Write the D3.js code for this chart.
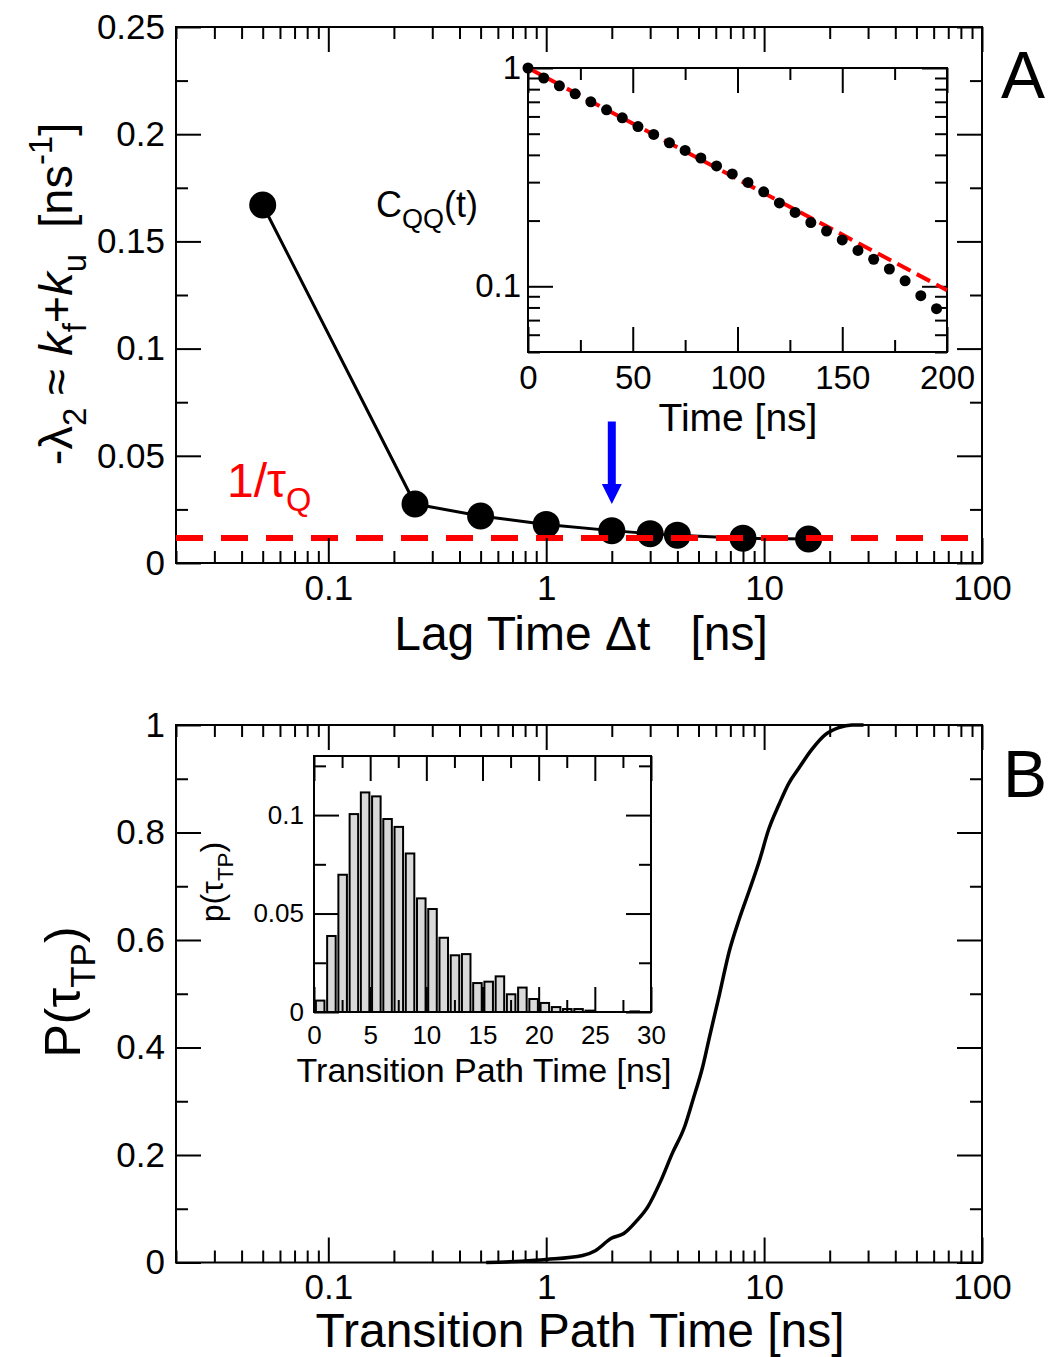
<!DOCTYPE html>
<html>
<head>
<meta charset="utf-8">
<script src="https://cdn.jsdelivr.net/npm/d3@7"></script>
<style>
  body { margin: 0; background: #fff; }
  svg text { font-family: "Liberation Sans", Arial, sans-serif; fill: #000; }
</style>
</head>
<body>
<svg id="fig" width="1050" height="1357"></svg>
<script>
// ---- Panel A: -lambda_2 vs lag time
const lagTimes = [0.05, 0.25, 0.5, 1, 2, 3, 4, 8, 16];
const rates = [0.167, 0.0275, 0.0219, 0.018, 0.0151, 0.0137, 0.013, 0.0116, 0.0112];
const rateQ = 0.0117;          // 1/tau_Q reference line
const markedLag = 2;           // blue arrow position
const arrowFrom = 0.066, arrowTo = 0.0275;

// ---- Panel A inset: C_QQ(t)
const corrTimes = [0, 7.5, 15, 22.5, 30, 37.5, 45, 52.5, 60, 67.5, 75, 82.5, 90, 97.5,
  105, 112.5, 120, 127.5, 135, 142.5, 150, 157.5, 165, 172.5, 180, 187.5, 195];
const corrValues = [1.0, 0.90, 0.829, 0.762, 0.70, 0.643, 0.591, 0.539, 0.496, 0.454, 0.419,
  0.387, 0.356, 0.327, 0.299, 0.271, 0.241, 0.218, 0.196, 0.179, 0.163, 0.146, 0.133,
  0.120, 0.106, 0.0906, 0.079];
const fitTimes = [0, 200];
const fitValues = [1.0, 0.096];

// ---- Panel B: cumulative distribution of transition path times
const tpTimes = [0.53, 0.77, 1.0, 1.47, 1.68, 1.99, 2.27, 2.58, 2.93, 3.34, 3.79, 4.32, 4.71,
  5.24, 5.61, 6.24, 6.92, 7.69, 8.55, 9.49, 10.5, 11.7, 13.0, 14.4, 16.6, 19.1, 22.0, 25.3, 28.6];
const tpCdf = [0, 0.0025, 0.0056, 0.013, 0.022, 0.045, 0.054, 0.076, 0.104, 0.150, 0.203, 0.253,
  0.302, 0.366, 0.419, 0.499, 0.579, 0.639, 0.692, 0.746, 0.806, 0.852, 0.892, 0.919, 0.955,
  0.982, 0.995, 1.0, 1.0];

// ---- Panel B inset: histogram (1 ns bins)
const binStarts = d3.range(0, 30);
const binProbs = [0.0058, 0.0386, 0.0697, 0.1005, 0.1115, 0.1095, 0.098, 0.094, 0.0805, 0.0577,
  0.0523, 0.0377, 0.0288, 0.0294, 0.0147, 0.0154, 0.0181, 0.009, 0.0124, 0.0066, 0.0046,
  0.0025, 0.0015, 0.0015, 0.0007, 0, 0, 0, 0.0003, 0];

// ---- ticks
const logMajor = [0.1, 1, 10, 100];
const rateTicks = [0, 0.05, 0.1, 0.15, 0.2, 0.25];
const probTicks = [0, 0.2, 0.4, 0.6, 0.8, 1];
const corrTimeTicks = [0, 50, 100, 150, 200];
const corrTicks = [0.1, 1];
const histXTicks = [0, 5, 10, 15, 20, 25, 30];
const histYTicks = [0, 0.05, 0.1];

const svg = d3.select("#fig");
const fmt = d3.format("~g");

function logMinor(lo, hi) {
  const out = [];
  for (let e = Math.floor(Math.log10(lo)); e < Math.ceil(Math.log10(hi)); e++)
    for (let m = 2; m <= 9; m++) {
      const v = m * Math.pow(10, e);
      if (v >= lo * 0.999 && v <= hi * 1.001) out.push(v);
    }
  return out;
}

// frame with inward ticks on all four sides
function frame(g, x, y, o) {
  const [x0, x1] = x.range(), [y0, y1] = y.range();
  g.append("rect").attr("x", x0).attr("y", y1).attr("width", x1 - x0).attr("height", y0 - y1)
    .attr("fill", o.fill || "none").attr("stroke", "#000").attr("stroke-width", 2);
  return function ticks() {
    const L = o.major || 25, l = o.minor || 12;
    const add = (axis, tr) => g.append("g").attr("transform", tr).call(axis)
      .call(s => s.select(".domain").remove())
      .call(s => s.selectAll("line").attr("stroke", "#000").attr("stroke-width", 2))
      .attr("font-size", o.fontSize).attr("font-family", null);
    add(d3.axisBottom(x).tickValues(o.xMajor).tickSize(-L).tickPadding(o.xPad).tickFormat(fmt), `translate(0,${y0})`);
    add(d3.axisBottom(x).tickValues(o.xMinor).tickSize(-l).tickFormat(""), `translate(0,${y0})`);
    add(d3.axisTop(x).tickValues(o.xMajor).tickSize(-L).tickFormat(""), `translate(0,${y1})`);
    add(d3.axisTop(x).tickValues(o.xMinor).tickSize(-l).tickFormat(""), `translate(0,${y1})`);
    add(d3.axisLeft(y).tickValues(o.yMajor).tickSize(-L).tickPadding(o.yPad).tickFormat(fmt), `translate(${x0},0)`);
    add(d3.axisLeft(y).tickValues(o.yMinor).tickSize(-l).tickFormat(""), `translate(${x0},0)`);
    add(d3.axisRight(y).tickValues(o.yMajor).tickSize(-L).tickFormat(""), `translate(${x1},0)`);
    add(d3.axisRight(y).tickValues(o.yMinor).tickSize(-l).tickFormat(""), `translate(${x1},0)`);
  };
}

// text with sub/superscripts and italics
function rich(sel, parts, size) {
  let shift = 0;
  sel.style("white-space", "pre");
  parts.forEach(p => {
    const target = p.sub ? size * 0.3 : p.sup ? -size * 0.42 : 0;
    sel.append("tspan")
      .attr("dy", target - shift)
      .attr("font-size", (p.sub || p.sup) ? size * (p.k || 0.7) : size)
      .attr("font-style", p.it ? "italic" : null)
      .text(p.t);
    shift = target;
  });
  return sel;
}

// ================= Panel A =================
const xA = d3.scaleLog().domain([0.02, 100]).range([176, 982]);
const yA = d3.scaleLinear().domain([0, 0.25]).range([563, 27]);
const gA = svg.append("g");
const ticksA = frame(gA, xA, yA, {
  xMajor: logMajor, xMinor: logMinor(0.02, 100), yMajor: rateTicks,
  yMinor: d3.range(0.025, 0.25, 0.05), fontSize: 35, xPad: 12, yPad: 11
});

const ptsA = lagTimes.map((t, i) => [t, rates[i]]);
gA.append("path").datum(ptsA)
  .attr("d", d3.line().x(d => xA(d[0])).y(d => yA(d[1])))
  .attr("fill", "none").attr("stroke", "#000").attr("stroke-width", 3);
gA.selectAll(".dotA").data(ptsA).enter().append("circle")
  .attr("cx", d => xA(d[0])).attr("cy", d => yA(d[1])).attr("r", 13.5).attr("fill", "#000");
gA.append("line")
  .attr("x1", xA.range()[0]).attr("x2", xA.range()[1])
  .attr("y1", yA(rateQ)).attr("y2", yA(rateQ))
  .attr("stroke", "#ff0000").attr("stroke-width", 6).attr("stroke-dasharray", "27,18");
ticksA();

// blue arrow
const ax = xA(markedLag);
gA.append("line").attr("x1", ax).attr("x2", ax)
  .attr("y1", yA(arrowFrom)).attr("y2", yA(arrowTo) - 15)
  .attr("stroke", "#0000ff").attr("stroke-width", 8);
gA.append("path")
  .attr("d", `M${ax - 10},${yA(arrowTo) - 20}L${ax + 10},${yA(arrowTo) - 20}L${ax},${yA(arrowTo)}Z`)
  .attr("fill", "#0000ff");

rich(gA.append("text").attr("x", 227).attr("y", 497).attr("fill", "#ff0000"),
  [{ t: "1/τ" }, { t: "Q", sub: true, k: 0.68 }], 48).selectAll("tspan").attr("fill", "#ff0000");

gA.append("text").attr("x", 581).attr("y", 650).attr("text-anchor", "middle")
  .attr("font-size", 48).style("white-space", "pre").text("Lag Time Δt   [ns]");

rich(gA.append("text").attr("transform", "translate(72,294) rotate(-90)").attr("text-anchor", "middle"),
  [{ t: "-λ" }, { t: "2", sub: true }, { t: " ≈ " }, { t: "k", it: true }, { t: "f", sub: true },
   { t: "+" }, { t: "k", it: true }, { t: "u", sub: true }, { t: "  [ns" }, { t: "-1", sup: true }, { t: "]" }], 47);

gA.append("text").attr("x", 1001).attr("y", 98).attr("font-size", 66).text("A");

// ---- inset A
const xAi = d3.scaleLinear().domain([0, 200]).range([528, 947]);
const yAi = d3.scaleLog().domain([0.05, 1]).range([352, 68]);
const gAi = svg.append("g");
const ticksAi = frame(gAi, xAi, yAi, {
  fill: "#fff", xMajor: corrTimeTicks, xMinor: [25, 75, 125, 175], yMajor: corrTicks,
  yMinor: logMinor(0.05, 1), fontSize: 33, xPad: 14, yPad: 7
});
ticksAi();
gAi.append("path").datum(fitTimes.map((t, i) => [t, fitValues[i]]))
  .attr("d", d3.line().x(d => xAi(d[0])).y(d => yAi(d[1])))
  .attr("stroke", "#ff0000").attr("stroke-width", 4).attr("stroke-dasharray", "15,7").attr("fill", "none");
gAi.selectAll(".dotAi").data(corrTimes.map((t, i) => [t, corrValues[i]])).enter().append("circle")
  .attr("cx", d => xAi(d[0])).attr("cy", d => yAi(d[1])).attr("r", 5.5).attr("fill", "#000");
gAi.append("text").attr("x", 738).attr("y", 431).attr("text-anchor", "middle")
  .attr("font-size", 39).text("Time [ns]");
rich(gAi.append("text").attr("x", 376).attr("y", 217),
  [{ t: "C" }, { t: "QQ", sub: true, k: 0.75 }, { t: "(t)" }], 36);

// ================= Panel B =================
const xB = d3.scaleLog().domain([0.02, 100]).range([176, 982]);
const yB = d3.scaleLinear().domain([0, 1]).range([1262.5, 725]);
const gB = svg.append("g");
const ticksB = frame(gB, xB, yB, {
  xMajor: logMajor, xMinor: logMinor(0.02, 100), yMajor: probTicks,
  yMinor: d3.range(0.1, 1, 0.2), fontSize: 35, xPad: 12, yPad: 11
});
ticksB();
gB.append("path").datum(tpTimes.map((t, i) => [t, tpCdf[i]]))
  .attr("d", d3.line().curve(d3.curveMonotoneX).x(d => xB(d[0])).y(d => yB(d[1])))
  .attr("fill", "none").attr("stroke", "#000").attr("stroke-width", 3.5).attr("stroke-linejoin", "round");

gB.append("text").attr("x", 580).attr("y", 1347).attr("text-anchor", "middle")
  .attr("font-size", 48).text("Transition Path Time [ns]");
rich(gB.append("text").attr("transform", "translate(80,992) rotate(-90)").attr("text-anchor", "middle"),
  [{ t: "P(τ" }, { t: "TP", sub: true }, { t: ")" }], 50);
gB.append("text").attr("x", 1003).attr("y", 797).attr("font-size", 66).text("B");

// ---- inset B
const xBi = d3.scaleLinear().domain([0, 30]).range([314, 651]);
const yBi = d3.scaleLinear().domain([0, 0.13]).range([1012, 756]);
const gBi = svg.append("g");
const ticksBi = frame(gBi, xBi, yBi, {
  fill: "#fff", xMajor: histXTicks, xMinor: d3.range(2.5, 30, 5), yMajor: histYTicks,
  yMinor: [0.025, 0.075, 0.125], fontSize: 26, xPad: 14, yPad: 10
});
const bins = binStarts.map((b, i) => [b, binProbs[i]]).filter(d => d[1] > 0);
gBi.selectAll(".bar").data(bins).enter().append("rect")
  .attr("x", d => xBi(d[0] + 0.17))
  .attr("width", xBi(0.76) - xBi(0))
  .attr("y", d => yBi(d[1]))
  .attr("height", d => yBi(0) - yBi(d[1]))
  .attr("fill", "#d9d9d9").attr("stroke", "#000").attr("stroke-width", 2);
ticksBi();
gBi.append("text").attr("x", 484).attr("y", 1082).attr("text-anchor", "middle")
  .attr("font-size", 34).text("Transition Path Time [ns]");
rich(gBi.append("text").attr("transform", "translate(223,882) rotate(-90)").attr("text-anchor", "middle"),
  [{ t: "p(τ" }, { t: "TP", sub: true }, { t: ")" }], 32);
</script>
</body>
</html>
